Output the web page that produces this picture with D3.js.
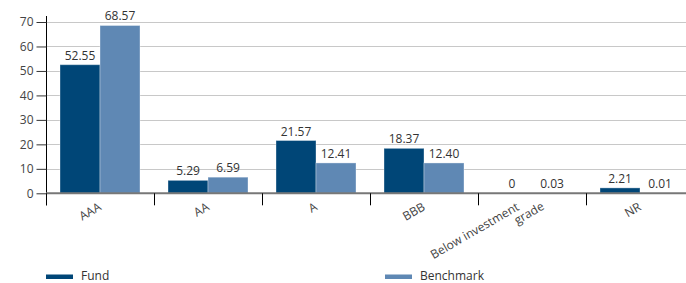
<!DOCTYPE html>
<html>
<head>
<meta charset="utf-8">
<script src="https://cdn.jsdelivr.net/npm/d3@7/dist/d3.min.js"></script>
<style>
  html, body { margin: 0; padding: 0; background: #fff; }
  svg { display: block; font-family: "Open Sans", sans-serif; }
</style>
</head>
<body>
<svg id="chart" width="686" height="283"></svg>
<script>
const categories = ["AAA", "AA", "A", "BBB", "Below investment grade", "NR"];
const categoryLines = [["AAA"], ["AA"], ["A"], ["BBB"], ["Below investment", "grade"], ["NR"]];
const seriesNames = ["Fund", "Benchmark"];
const fundValues = [52.55, 5.29, 21.57, 18.37, 0, 2.21];
const benchmarkValues = [68.57, 6.59, 12.41, 12.40, 0.03, 0.01];
const fundLabels = ["52.55", "5.29", "21.57", "18.37", "0", "2.21"];
const benchmarkLabels = ["68.57", "6.59", "12.41", "12.40", "0.03", "0.01"];
const yTicks = [0, 10, 20, 30, 40, 50, 60, 70];
const colors = ["#004677", "#5f88b4"];

const svg = d3.select("#chart");
const W = 686;
const margin = { left: 46, top: 22 };
const plotRight = 694;
const y0 = 193.3;

const x = d3.scaleBand().domain(categories).range([margin.left, plotRight]).paddingInner(0).paddingOuter(0);
const xs = d3.scaleBand().domain(seriesNames).range([0, x.bandwidth()]).paddingInner(0).paddingOuter(0.35);
const y = d3.scaleLinear().domain([0, 70]).range([y0, margin.top]);

// gridlines
svg.append("g").selectAll("line").data(yTicks.filter(d => d > 0)).join("line")
  .attr("x1", margin.left).attr("x2", W)
  .attr("y1", d => Math.round(y(d)) + 0.5).attr("y2", d => Math.round(y(d)) + 0.5)
  .attr("stroke", "#c8c8c8").attr("stroke-width", 1);

// y axis
const yAxis = d3.axisLeft(y).tickValues(yTicks).tickSize(10).tickPadding(3).tickFormat(d3.format("d"));
const gy = svg.append("g").attr("transform", `translate(${margin.left + 0.5},0)`).call(yAxis);
gy.select(".domain").attr("stroke", "#000").attr("d", `M0,${y0 + 12}V${y(70) - 6}`);
gy.selectAll(".tick line").attr("stroke", "#333");
gy.selectAll(".tick text").attr("fill", "#444").attr("font-size", 12).attr("font-family", "Open Sans, sans-serif");

// bars
const data = categories.map((c, i) => ({ c, vals: [
  { s: "Fund", v: fundValues[i], lab: fundLabels[i] },
  { s: "Benchmark", v: benchmarkValues[i], lab: benchmarkLabels[i] }] }));

const groups = svg.append("g").selectAll("g").data(data).join("g")
  .attr("transform", d => `translate(${x(d.c)},0)`);

groups.selectAll("rect").data(d => d.vals).join("rect")
  .attr("x", d => xs(d.s))
  .attr("width", xs.bandwidth())
  .attr("y", d => y(d.v))
  .attr("height", d => Math.max(0, y0 - y(d.v)))
  .attr("fill", (d, i) => colors[i])
  .attr("stroke", "#ffffff").attr("stroke-opacity", 0.35).attr("stroke-width", 1);

groups.selectAll("text.val").data(d => d.vals).join("text").attr("class", "val")
  .attr("x", d => xs(d.s) + xs.bandwidth() / 2)
  .attr("y", d => y(d.v) - 5)
  .attr("text-anchor", "middle")
  .attr("font-size", 12).attr("fill", "#333")
  .text(d => d.lab);

// x axis baseline
svg.append("line").attr("x1", margin.left).attr("x2", W).attr("y1", y0).attr("y2", y0)
  .attr("stroke", "#777").attr("stroke-width", 2);

// x ticks at band boundaries
const bounds = categories.map(c => x(c));
svg.append("g").selectAll("line").data(bounds).join("line")
  .attr("x1", d => Math.round(d) + 0.5).attr("x2", d => Math.round(d) + 0.5)
  .attr("y1", y0).attr("y2", y0 + 12)
  .attr("stroke", "#000").attr("stroke-width", 1);

// x labels
const xl = svg.append("g").selectAll("text").data(categories).join("text")
  .attr("transform", (c, i) => {
    const cx = x(c) + x.bandwidth() / 2;
    const multi = categoryLines[i].length > 1;
    return `translate(${cx + (multi ? -12 : 2)},${y0 + 16}) rotate(-30)`;
  })
  .attr("text-anchor", "end")
  .attr("font-size", 12).attr("fill", "#444");
xl.each(function(c, i) {
  const t = d3.select(this);
  categoryLines[i].forEach((ln, j) => {
    t.append("tspan").attr("x", j === 0 ? 0 : 22).attr("dy", j === 0 ? 0 : 12).text(ln);
  });
});

// legend
const legend = svg.append("g");
const legendX = [46, 385];
seriesNames.forEach((s, i) => {
  legend.append("rect").attr("x", legendX[i]).attr("y", 274.5).attr("width", 27).attr("height", 4.5).attr("fill", colors[i]);
  legend.append("text").attr("x", legendX[i] + 35).attr("y", 280).attr("font-size", 12).attr("fill", "#333").text(s);
});
</script>
</body>
</html>
